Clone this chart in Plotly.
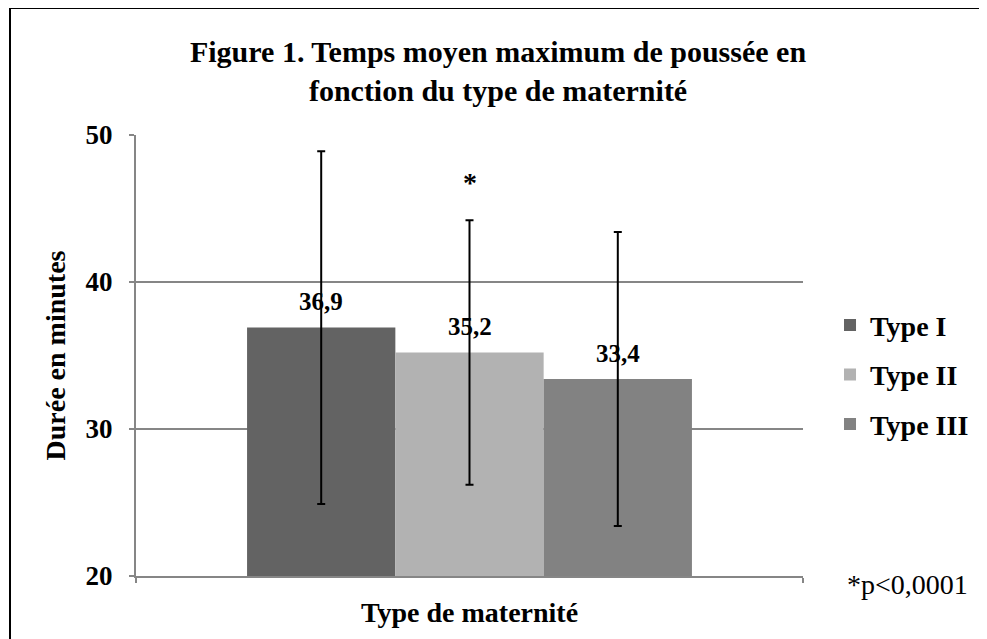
import plotly.graph_objects as go

# Data
categories = ["Type I", "Type II", "Type III"]
means = [36.9, 35.2, 33.4]
sds = [12, 9, 10]
colors = ["#636363", "#b2b2b2", "#828282"]
sig_index = 1          # Type II marked significant
sig_marker_y = 46.8
y_ticks = [20, 30, 40, 50]

FONT = "Liberation Serif"

# bars sit side by side (width 1 each), with a third of the axis left empty
positions = list(range(len(categories)))
bar_gap = 0.333
span = len(categories) / (1 - bar_gap)
pad = (span - len(categories)) / 2
x_range = [-0.5 - pad, len(categories) - 0.5 + pad]

fig = go.Figure()
for pos, cat, m, sd, col in zip(positions, categories, means, sds, colors):
    fig.add_trace(go.Bar(
        x=[pos], y=[m], name=cat, width=1,
        marker=dict(color=col, line=dict(width=0)),
        error_y=dict(type="data", array=[sd], visible=True, color="black",
                     thickness=2, width=4),
        legendgroup=cat,
    ))
    fig.add_annotation(x=pos, y=m, xref="x", yref="y",
                       text="<b>" + f"{m:.1f}".replace(".", ",") + "</b>",
                       showarrow=False, yanchor="middle", yshift=26,
                       font=dict(family=FONT, size=25, color="black"))

fig.add_annotation(x=positions[sig_index], y=sig_marker_y, xref="x", yref="y", text="<b>*</b>",
                   showarrow=False, font=dict(family=FONT, size=28, color="black"))
fig.add_annotation(x=1.157, y=-0.0204, xref="paper", yref="paper", text="*p&lt;0,0001",
                   xanchor="center", yanchor="middle",
                   showarrow=False, font=dict(family=FONT, size=28, color="black"))

# outer frame: only its left and top edges fall inside the picture
frame = dict(color="black", width=2)
fig.add_shape(type="line", xref="paper", yref="paper",
              x0=-0.1889, x1=-0.1889, y0=-0.6, y1=1.288, line=frame, layer="below")
fig.add_shape(type="line", xref="paper", yref="paper",
              x0=-0.1889, x1=1.6, y0=1.288, y1=1.288, line=frame, layer="below")

fig.update_layout(
    width=987, height=639,
    margin=dict(l=128, r=192, t=127, b=71),
    paper_bgcolor="white", plot_bgcolor="white",
    font=dict(family=FONT, color="black"),
    title=dict(text="<b>Figure 1. Temps moyen maximum de poussée en<br>fonction du type de maternité</b>",
               x=0.4965, xanchor="center", y=0.915, yanchor="middle",
               font=dict(family=FONT, size=30, color="black")),
    legend=dict(x=1.0405, y=0.456, xanchor="left", yanchor="middle",
                font=dict(family=FONT, size=28, color="black", weight="bold"),
                tracegroupgap=10, bgcolor="rgba(0,0,0,0)"),
    showlegend=True,
    xaxis=dict(range=x_range, tickvals=x_range, showticklabels=False,
               showline=True, linecolor="#868686", linewidth=2, showgrid=False,
               ticks="outside", ticklen=5, tickcolor="#868686", tickwidth=2,
               zeroline=False, automargin=False,
               title=dict(text="<b>Type de maternité</b>", standoff=20,
                          font=dict(family=FONT, size=28, color="black"))),
    yaxis=dict(range=[20, 50], tickvals=y_ticks, showline=True, linecolor="#868686",
               linewidth=2, gridcolor="#868686", gridwidth=2,
               ticks="outside", ticklen=5, tickcolor="#868686", tickwidth=2,
               tickfont=dict(family=FONT, size=27, color="black", weight="bold"),
               ticklabelstandoff=11, zeroline=False, automargin=False,
               title=dict(text="<b>Durée en minutes</b>", standoff=12,
                          font=dict(family=FONT, size=28, color="black"))),
)

fig.write_html("out.html")
